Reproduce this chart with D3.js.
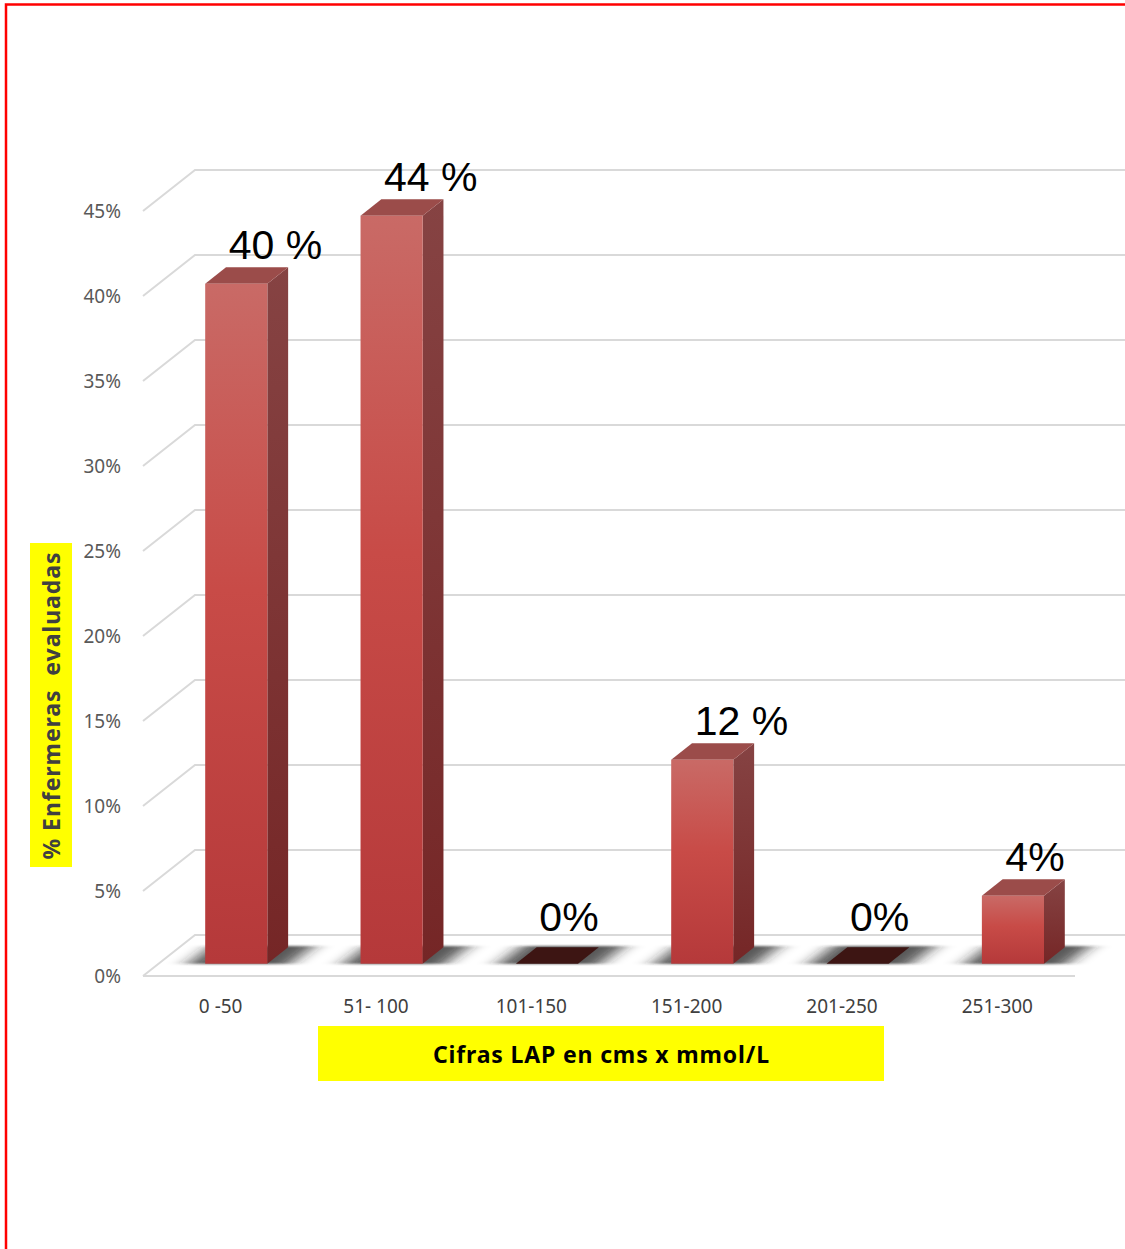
<!DOCTYPE html>
<html>
<head>
<meta charset="utf-8">
<script src="https://cdn.jsdelivr.net/npm/d3@7"></script>
<style>
  body { margin: 0; background: #fff; }
  svg { display: block; }
</style>
</head>
<body>
<div id="chart"></div>
<script>
// data
const categories = ['0 -50', '51- 100', '101-150', '151-200', '201-250', '251-300'];
const values = [0.40, 0.44, 0, 0.12, 0, 0.04];
const valueLabels = ['40 %', '44 %', '0%', '12 %', '0%', '4%'];
const yTicks = [0, 0.05, 0.10, 0.15, 0.20, 0.25, 0.30, 0.35, 0.40, 0.45];

const width = 1125;
const height = 1249;

// 3d depth vector (front plane -> back wall)
const depth = { dx: 52, dy: -41 };
const barFront = 0.3;
const barBack = 0.7;

const svg = d3.select('#chart')
  .append('svg')
  .attr('width', width)
  .attr('height', height);

const defs = svg.append('defs');

const frontGrad = defs.append('linearGradient')
  .attr('id', 'front-grad')
  .attr('x1', 0).attr('y1', 0).attr('x2', 0).attr('y2', 1);
frontGrad.append('stop').attr('offset', '0%').attr('stop-color', '#c96a66');
frontGrad.append('stop').attr('offset', '45%').attr('stop-color', '#c84b47');
frontGrad.append('stop').attr('offset', '100%').attr('stop-color', '#b5393a');

const sideGrad = defs.append('linearGradient')
  .attr('id', 'side-grad')
  .attr('x1', 0).attr('y1', 0).attr('x2', 0).attr('y2', 1);
sideGrad.append('stop').attr('offset', '0%').attr('stop-color', '#864343');
sideGrad.append('stop').attr('offset', '100%').attr('stop-color', '#752626');

// shadow is soft sideways, fairly crisp front/back
defs.append('filter')
  .attr('id', 'blur')
  .attr('x', '-50%').attr('y', '-50%').attr('width', '200%').attr('height', '200%')
  .append('feGaussianBlur')
  .attr('stdDeviation', '10 1.2');

// scales on the front plane
const x = d3.scaleBand()
  .domain(categories)
  .range([143, 1075]);

const y = d3.scaleLinear()
  .domain([0, 0.45])
  .range([976, 211]);

const pt = (px, py, f) => [px + depth.dx * f, py + depth.dy * f];
const poly = (pts) => pts.map((p) => p.join(',')).join(' ');

// gridlines: diagonal on the side wall + horizontal on the back wall
const grid = svg.append('g')
  .attr('stroke', '#d9d9d9')
  .attr('stroke-width', 2)
  .attr('fill', 'none');

grid.selectAll('path.grid')
  .data(yTicks)
  .enter().append('path')
  .attr('class', 'grid')
  .attr('d', (d) => {
    const [bx, by] = pt(x.range()[0], y(d), 1);
    return `M${x.range()[0]},${y(d)}L${bx},${by}L${width + 10},${by}`;
  });

// floor front edge
grid.append('path')
  .attr('d', `M${x.range()[0]},${y(0)}L${x.range()[1]},${y(0)}`);

// y tick labels
svg.append('g')
  .selectAll('text')
  .data(yTicks)
  .enter().append('text')
  .attr('x', 121)
  .attr('y', (d) => y(d) + 7)
  .attr('text-anchor', 'end')
  .attr('font-family', 'Noto Sans, sans-serif')
  .attr('font-size', 19)
  .attr('fill', '#595959')
  .text((d) => d3.format('.0%')(d));

// bars
const bw = x.bandwidth() * (barBack - barFront);
const barData = categories.map((c, i) => {
  const x0 = x(c) + x.bandwidth() * barFront;
  return { cat: c, value: values[i], label: valueLabels[i], x0, x1: x0 + bw };
});

const shadows = svg.append('g').attr('filter', 'url(#blur)');
shadows.selectAll('polygon')
  .data(barData)
  .enter().append('polygon')
  .attr('fill', '#222')
  .attr('opacity', 0.75)
  .attr('points', (d) => poly([
    pt(d.x0 - 16, y(0) - 1, barFront - 0.03),
    pt(d.x1 + 24, y(0) - 1, barFront - 0.03),
    pt(d.x1 + 24, y(0), barBack + 0.03),
    pt(d.x0 - 16, y(0), barBack + 0.03)
  ]));

const bars = svg.append('g')
  .selectAll('g')
  .data(barData)
  .enter().append('g');

// zero-height bars: just the dark footprint
bars.filter((d) => d.value === 0)
  .append('polygon')
  .attr('fill', '#3d1513')
  .attr('points', (d) => poly([
    pt(d.x0, y(0), barFront),
    pt(d.x1, y(0), barFront),
    pt(d.x1, y(0), barBack),
    pt(d.x0, y(0), barBack)
  ]));

const solid = bars.filter((d) => d.value > 0);

// side face
solid.append('polygon')
  .attr('fill', 'url(#side-grad)')
  .attr('points', (d) => poly([
    pt(d.x1, y(d.value), barFront),
    pt(d.x1, y(d.value), barBack),
    pt(d.x1, y(0), barBack),
    pt(d.x1, y(0), barFront)
  ]));

// top face
solid.append('polygon')
  .attr('fill', '#9b4c4a')
  .attr('points', (d) => poly([
    pt(d.x0, y(d.value), barFront),
    pt(d.x1, y(d.value), barFront),
    pt(d.x1, y(d.value), barBack),
    pt(d.x0, y(d.value), barBack)
  ]));

// front face
solid.append('rect')
  .attr('fill', 'url(#front-grad)')
  .attr('x', (d) => pt(d.x0, 0, barFront)[0])
  .attr('y', (d) => pt(0, y(d.value), barFront)[1])
  .attr('width', bw)
  .attr('height', (d) => y(0) - y(d.value));

// value labels above the back edge of each bar
bars.append('text')
  .attr('x', (d) => x(d.cat) + x.bandwidth() / 2 + 8)
  .attr('y', (d) => pt(0, y(d.value), barBack)[1] - (d.value === 0 ? 16 : 8))
  .attr('font-family', 'Liberation Sans, Arial, sans-serif')
  .attr('font-size', 41)
  .attr('fill', '#000')
  .text((d) => d.label);

// category labels
svg.append('g')
  .selectAll('text')
  .data(categories)
  .enter().append('text')
  .attr('x', (d) => x(d) + x.bandwidth() / 2)
  .attr('y', 1013)
  .attr('text-anchor', 'middle')
  .attr('font-family', 'Noto Sans, sans-serif')
  .attr('font-size', 19)
  .attr('fill', '#404040')
  .text((d) => d);

// x axis title
svg.append('rect')
  .attr('x', 318).attr('y', 1026)
  .attr('width', 566).attr('height', 55)
  .attr('fill', '#ffff00');
svg.append('text')
  .attr('x', 601)
  .attr('y', 1063)
  .attr('text-anchor', 'middle')
  .attr('font-family', 'Noto Sans, sans-serif')
  .attr('font-weight', 'bold')
  .attr('font-size', 23)
  .attr('textLength', 336)
  .attr('fill', '#000')
  .text('Cifras LAP en cms x mmol/L');

// y axis title
svg.append('rect')
  .attr('x', 30).attr('y', 543)
  .attr('width', 42).attr('height', 324)
  .attr('fill', '#ffff00');
svg.append('text')
  .attr('transform', 'translate(60,706) rotate(-90)')
  .attr('text-anchor', 'middle')
  .attr('font-family', 'Noto Sans, sans-serif')
  .attr('font-weight', 'bold')
  .attr('font-size', 23)
  .attr('textLength', 307)
  .attr('fill', '#404040')
  .attr('xml:space', 'preserve')
  .text('% Enfermeras  evaluadas');

// red frame
svg.append('rect')
  .attr('x', 6).attr('y', 4.5)
  .attr('width', width + 20).attr('height', height + 20)
  .attr('fill', 'none')
  .attr('stroke', '#ff0000')
  .attr('stroke-width', 2.5);
</script>
</body>
</html>
